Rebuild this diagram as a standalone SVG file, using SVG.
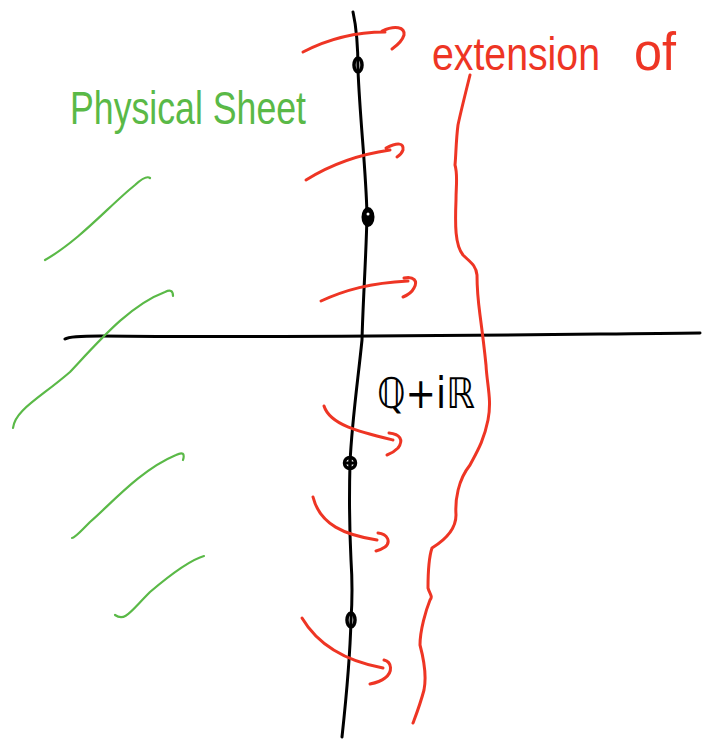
<svg xmlns="http://www.w3.org/2000/svg" width="703" height="740" viewBox="0 0 703 740">
<style>
.blk{fill:none;stroke:#000;stroke-width:3;stroke-linecap:round;stroke-linejoin:round}
.red{fill:none;stroke:#ee3524;stroke-width:3;stroke-linecap:round;stroke-linejoin:round}
.grn{fill:none;stroke:#5ab947;stroke-width:2.2;stroke-linecap:round;stroke-linejoin:round}
.knot{fill:none;stroke:#000;stroke-width:3.5}
.t{font-family:"Liberation Sans","DejaVu Sans",sans-serif}
</style>
<rect width="703" height="740" fill="#fff"/>
<g id="axes">
<path class="blk" d="M353,12 C357,30 358,50 358,70 C360,120 366,170 367,215 C366,260 363,300 362,340 C358,380 352,420 350,463 C349,500 350,540 351,560 C353,590 352,605 351,620 C350,660 346,700 342,737"/>
<path class="blk" d="M65,339 Q70,336 100,336 C300,338 500,335 700,333"/>
</g>
<g id="points">
<ellipse class="knot" cx="358" cy="65" rx="4" ry="7"/>
<ellipse cx="368" cy="217" rx="6.5" ry="10" fill="#000"/>
<circle cx="368" cy="214" r="1.5" fill="#fff"/>
<circle class="knot" cx="350" cy="463" r="5.5"/>
<path class="blk" d="M345,463 L355,463 M350,458 L350,468"/>
<ellipse class="knot" cx="351" cy="620" rx="4" ry="7"/>
</g>
<g id="physical-sheet">
<path class="grn" d="M45,260 C80,240 110,205 135,185 Q146,175 150,178"/>
<path class="grn" d="M173,296 Q173,288 165,292 C130,305 100,340 70,372 C40,398 15,410 13,428"/>
<path class="grn" d="M183,460 Q186,450 176,455 C140,470 110,505 90,522 C80,532 75,538 72,538"/>
<path class="grn" d="M204,556 C190,560 170,575 150,592 C130,612 125,622 115,615"/>
<text class="t" x="70" y="124" font-size="46" fill="#5ab947" textLength="236" lengthAdjust="spacingAndGlyphs">Physical Sheet</text>
</g>
<g id="extension">
<path class="red" d="M470,75 C465,95 460,115 458,125 C456,140 456,155 455,165 C458,175 456,185 456,200 C455,225 455,245 463,255 C470,262 476,265 477,275 C477,290 478,300 480,315 C482,330 484,345 486,365 C487,385 492,400 488,420 C484,440 478,450 470,465 C458,480 455,500 456,515 C456,530 445,540 432,548 C428,560 428,575 428,588 C430,595 433,596 430,600 C426,610 420,630 420,645 C424,660 427,675 424,690 C420,705 416,715 413,723"/>
<text class="t" fill="#ee3524" font-size="46" y="70"><tspan x="432" textLength="168" lengthAdjust="spacingAndGlyphs">extension</tspan><tspan x="634" font-size="54" textLength="42" lengthAdjust="spacingAndGlyphs">of</tspan></text>
</g>
<g id="connectors">
<path class="red" d="M303,52 C330,38 355,32 385,32 M382,31 C395,25 405,27 404,35 C402,42 396,46 392,49"/>
<path class="red" d="M306,180 C330,165 355,155 390,150 M386,148 C398,142 404,143 403,150 C402,153 400,155 397,157"/>
<path class="red" d="M321,301 C345,290 370,283 408,281 M404,278 C414,276 418,281 414,288 C412,292 408,295 403,297"/>
<path class="red" d="M324,406 C330,425 360,432 393,440 M389,433 C400,434 404,440 398,448 C394,452 390,454 387,455"/>
<path class="red" d="M313,497 C320,525 345,535 377,540 M378,533 C388,534 391,542 385,547 C382,549 380,550 376,551"/>
<path class="red" d="M302,618 C315,640 340,660 383,668 M384,660 C392,662 393,672 385,678 C380,682 375,683 370,684"/>
</g>
<g id="label-QiR">
<text x="377" y="408" font-size="42" fill="#000" font-family="DejaVu Sans,sans-serif" textLength="98" lengthAdjust="spacingAndGlyphs">ℚ+iℝ</text>
</g>
</svg>
